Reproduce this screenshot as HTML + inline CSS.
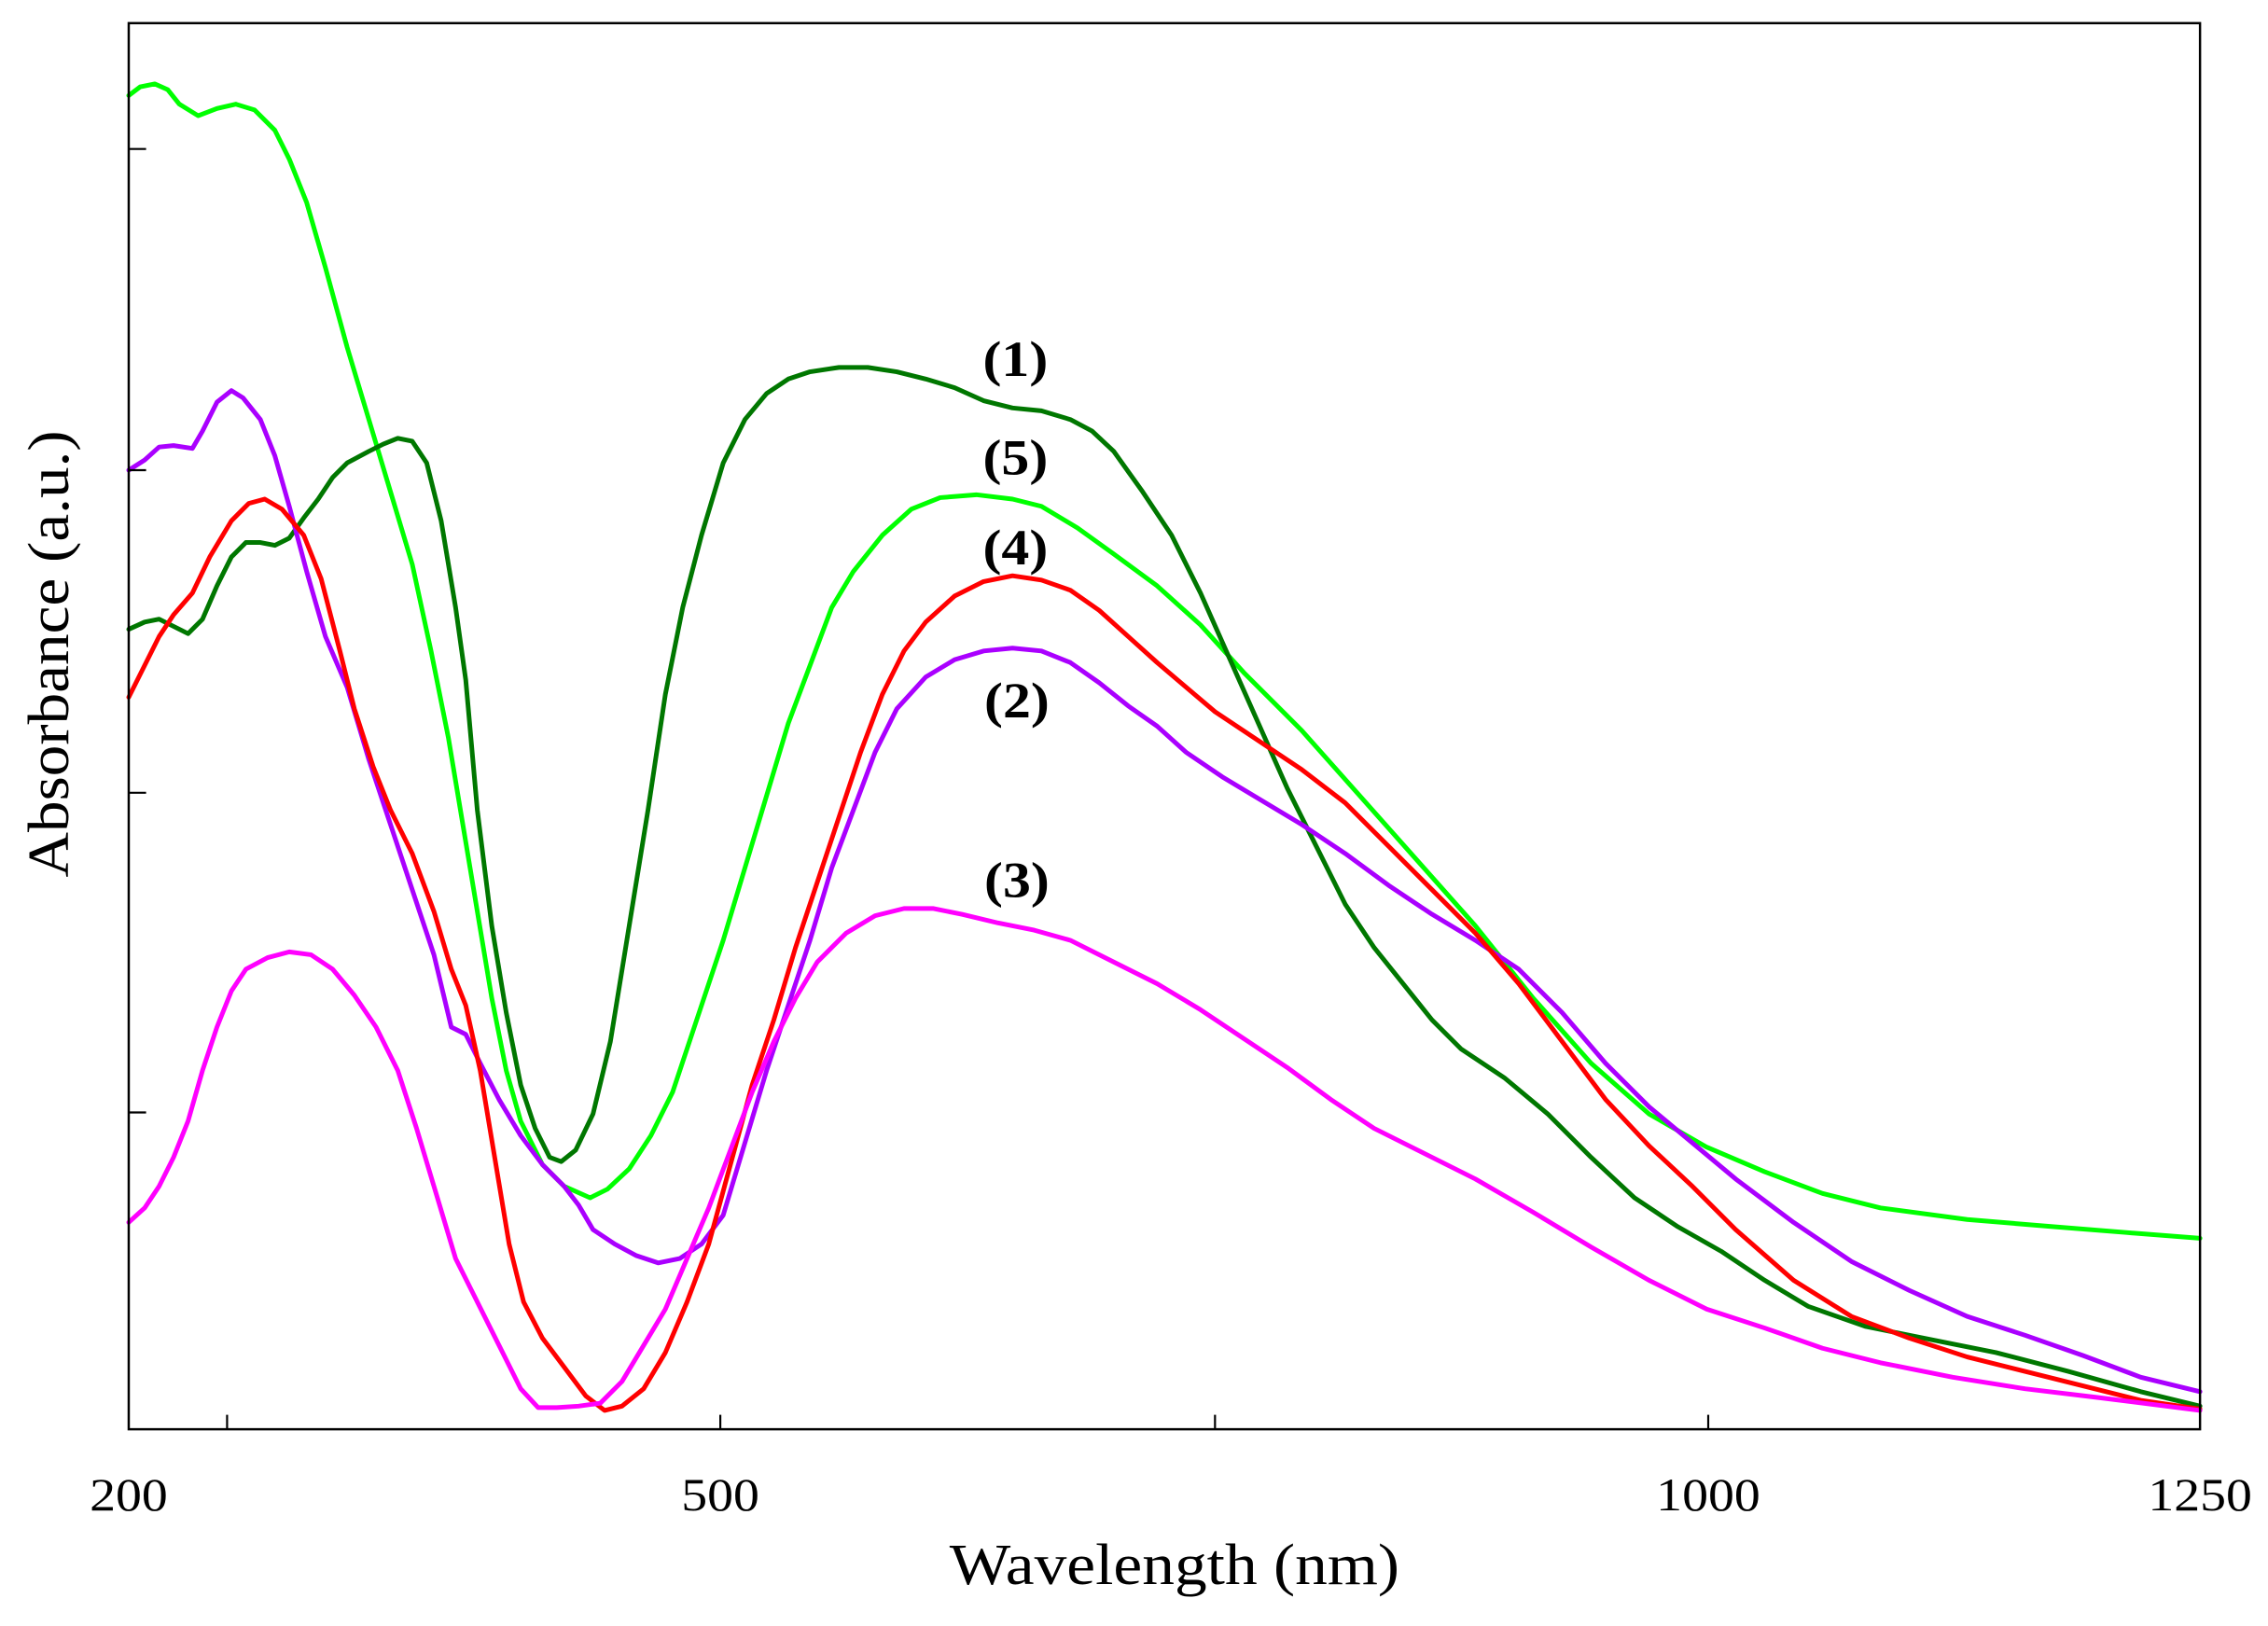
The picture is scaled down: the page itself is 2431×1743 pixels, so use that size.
<!DOCTYPE html>
<html><head><meta charset="utf-8"><style>html,body{margin:0;padding:0;background:#fff}svg{display:block}</style></head>
<body>
<svg width="2431" height="1743" viewBox="0 0 1568 1124" preserveAspectRatio="none" xmlns="http://www.w3.org/2000/svg">
<rect x="0" y="0" width="1568" height="1124" fill="#fff"/>
<g fill="none" stroke-width="3.2" stroke-linejoin="round" stroke-linecap="round">
<polyline stroke="#00ff00" points="89,66 97,60 107,58 116,62 124,72 137,80 150,75 163,72 176,76 190,90 200,110 212,140 225,185 240,240 255,290 270,340 285,390 298,450 310,510 320,570 330,630 340,690 350,740 360,775 375,805 390,820 408,828 420,822 435,808 450,785 465,755 480,710 500,650 515,600 530,550 545,500 560,460 575,420 590,395 610,370 630,352 650,344 675,342 700,345 720,350 745,365 770,383 800,405 830,432 860,465 900,505 940,550 980,595 1020,640 1060,690 1100,735 1140,770 1180,793 1220,810 1260,825 1300,835 1360,843 1420,848 1470,852 1521,856"/>
<polyline stroke="#007700" points="89,435 100,430 110,428 120,433 130,438 140,428 150,405 160,385 170,375 180,375 190,377 200,372 210,358 220,345 230,330 240,320 255,312 265,307 275,303 285,305 295,320 305,360 315,420 322,470 330,560 340,640 350,700 360,750 370,780 380,800 388,803 398,795 410,770 422,720 435,640 448,560 460,480 472,420 485,370 500,320 515,290 530,272 545,262 560,257 580,254 600,254 620,257 640,262 660,268 680,277 700,282 720,284 740,290 755,298 770,312 790,340 810,370 830,410 850,455 870,500 890,545 910,585 930,625 950,655 970,680 990,705 1010,725 1040,745 1070,770 1100,800 1130,828 1160,848 1190,865 1220,885 1250,903 1290,917 1330,925 1380,935 1430,948 1480,962 1521,972"/>
<polyline stroke="#aa00ff" points="89,325 100,318 110,309 120,308 133,310 140,298 150,278 160,270 168,275 180,290 190,315 200,350 212,395 225,440 240,475 255,525 270,570 285,615 300,660 312,710 322,715 332,735 345,760 360,785 375,805 390,820 400,833 410,850 425,860 440,868 455,873 470,870 485,860 500,840 515,790 530,740 545,695 560,650 575,600 590,560 605,520 620,490 640,468 660,456 680,450 700,448 720,450 740,458 760,472 780,488 800,502 820,520 845,537 870,552 900,570 930,590 960,612 990,632 1020,650 1050,670 1080,700 1110,735 1140,765 1170,790 1200,815 1240,845 1280,872 1320,892 1360,910 1400,923 1440,937 1480,952 1521,962"/>
<polyline stroke="#ff0000" points="89,482 100,460 110,440 120,425 133,410 145,385 160,360 172,348 183,345 195,352 210,370 222,400 235,450 245,490 258,530 270,560 285,590 300,630 312,670 322,695 332,740 342,800 352,860 362,900 375,925 390,945 405,965 418,975 430,972 445,960 460,935 475,900 490,860 505,805 520,750 535,705 550,655 565,610 580,565 595,520 610,480 625,450 640,430 660,412 680,402 700,398 720,401 740,408 760,422 780,440 800,458 820,475 840,492 870,512 900,532 930,555 960,585 990,615 1020,645 1050,680 1080,720 1110,760 1140,792 1170,820 1200,850 1240,885 1280,910 1320,925 1360,938 1400,948 1440,958 1480,968 1521,974"/>
<polyline stroke="#ff00ff" points="89,845 100,835 110,820 120,800 130,775 140,740 150,710 160,685 170,670 185,662 200,658 215,660 230,670 245,688 260,710 275,740 288,780 300,820 315,870 330,900 345,930 360,960 372,973 385,973 400,972 415,970 430,955 445,930 460,905 475,870 490,835 505,795 520,755 535,720 550,690 565,665 585,645 605,633 625,628 645,628 665,632 690,638 715,643 740,650 770,665 800,680 830,698 860,718 890,738 920,760 950,780 980,795 1020,815 1060,838 1100,862 1140,885 1180,905 1220,918 1260,932 1300,942 1350,952 1400,960 1450,966 1521,975"/>
</g>
<rect x="89" y="16" width="1432" height="972" fill="none" stroke="#000" stroke-width="1.6"/>
<g stroke="#000" stroke-width="1.4">
<line x1="89" y1="103" x2="101" y2="103"/><line x1="89" y1="325" x2="101" y2="325"/><line x1="89" y1="548" x2="101" y2="548"/><line x1="89" y1="769" x2="101" y2="769"/>
<line x1="157" y1="988" x2="157" y2="978"/><line x1="498" y1="988" x2="498" y2="978"/><line x1="840" y1="988" x2="840" y2="978"/><line x1="1181" y1="988" x2="1181" y2="978"/>
</g>
<g font-family="Liberation Serif, serif" font-size="32" fill="#000" text-anchor="middle">
<text x="89" y="1044" textLength="54" lengthAdjust="spacingAndGlyphs">200</text>
<text x="498" y="1044" textLength="54" lengthAdjust="spacingAndGlyphs">500</text>
<text x="1181" y="1044" textLength="72" lengthAdjust="spacingAndGlyphs">1000</text>
<text x="1521" y="1044" textLength="72" lengthAdjust="spacingAndGlyphs">1250</text>
<text x="812" y="1095" font-size="40" textLength="311" lengthAdjust="spacingAndGlyphs">Wavelength (nm)</text>
<text transform="translate(47,452) rotate(-90)" font-size="40" textLength="309" lengthAdjust="spacingAndGlyphs">Absorbance (a.u.)</text>
</g>
<g font-family="Liberation Serif, serif" font-size="35" font-weight="bold" fill="#000" text-anchor="middle">
<text x="702" y="260" textLength="45" lengthAdjust="spacingAndGlyphs">(1)</text>
<text x="702" y="328" textLength="45" lengthAdjust="spacingAndGlyphs">(5)</text>
<text x="702" y="390" textLength="45" lengthAdjust="spacingAndGlyphs">(4)</text>
<text x="703" y="496" textLength="45" lengthAdjust="spacingAndGlyphs">(2)</text>
<text x="703" y="620" textLength="45" lengthAdjust="spacingAndGlyphs">(3)</text>
</g>
</svg>
</body></html>
